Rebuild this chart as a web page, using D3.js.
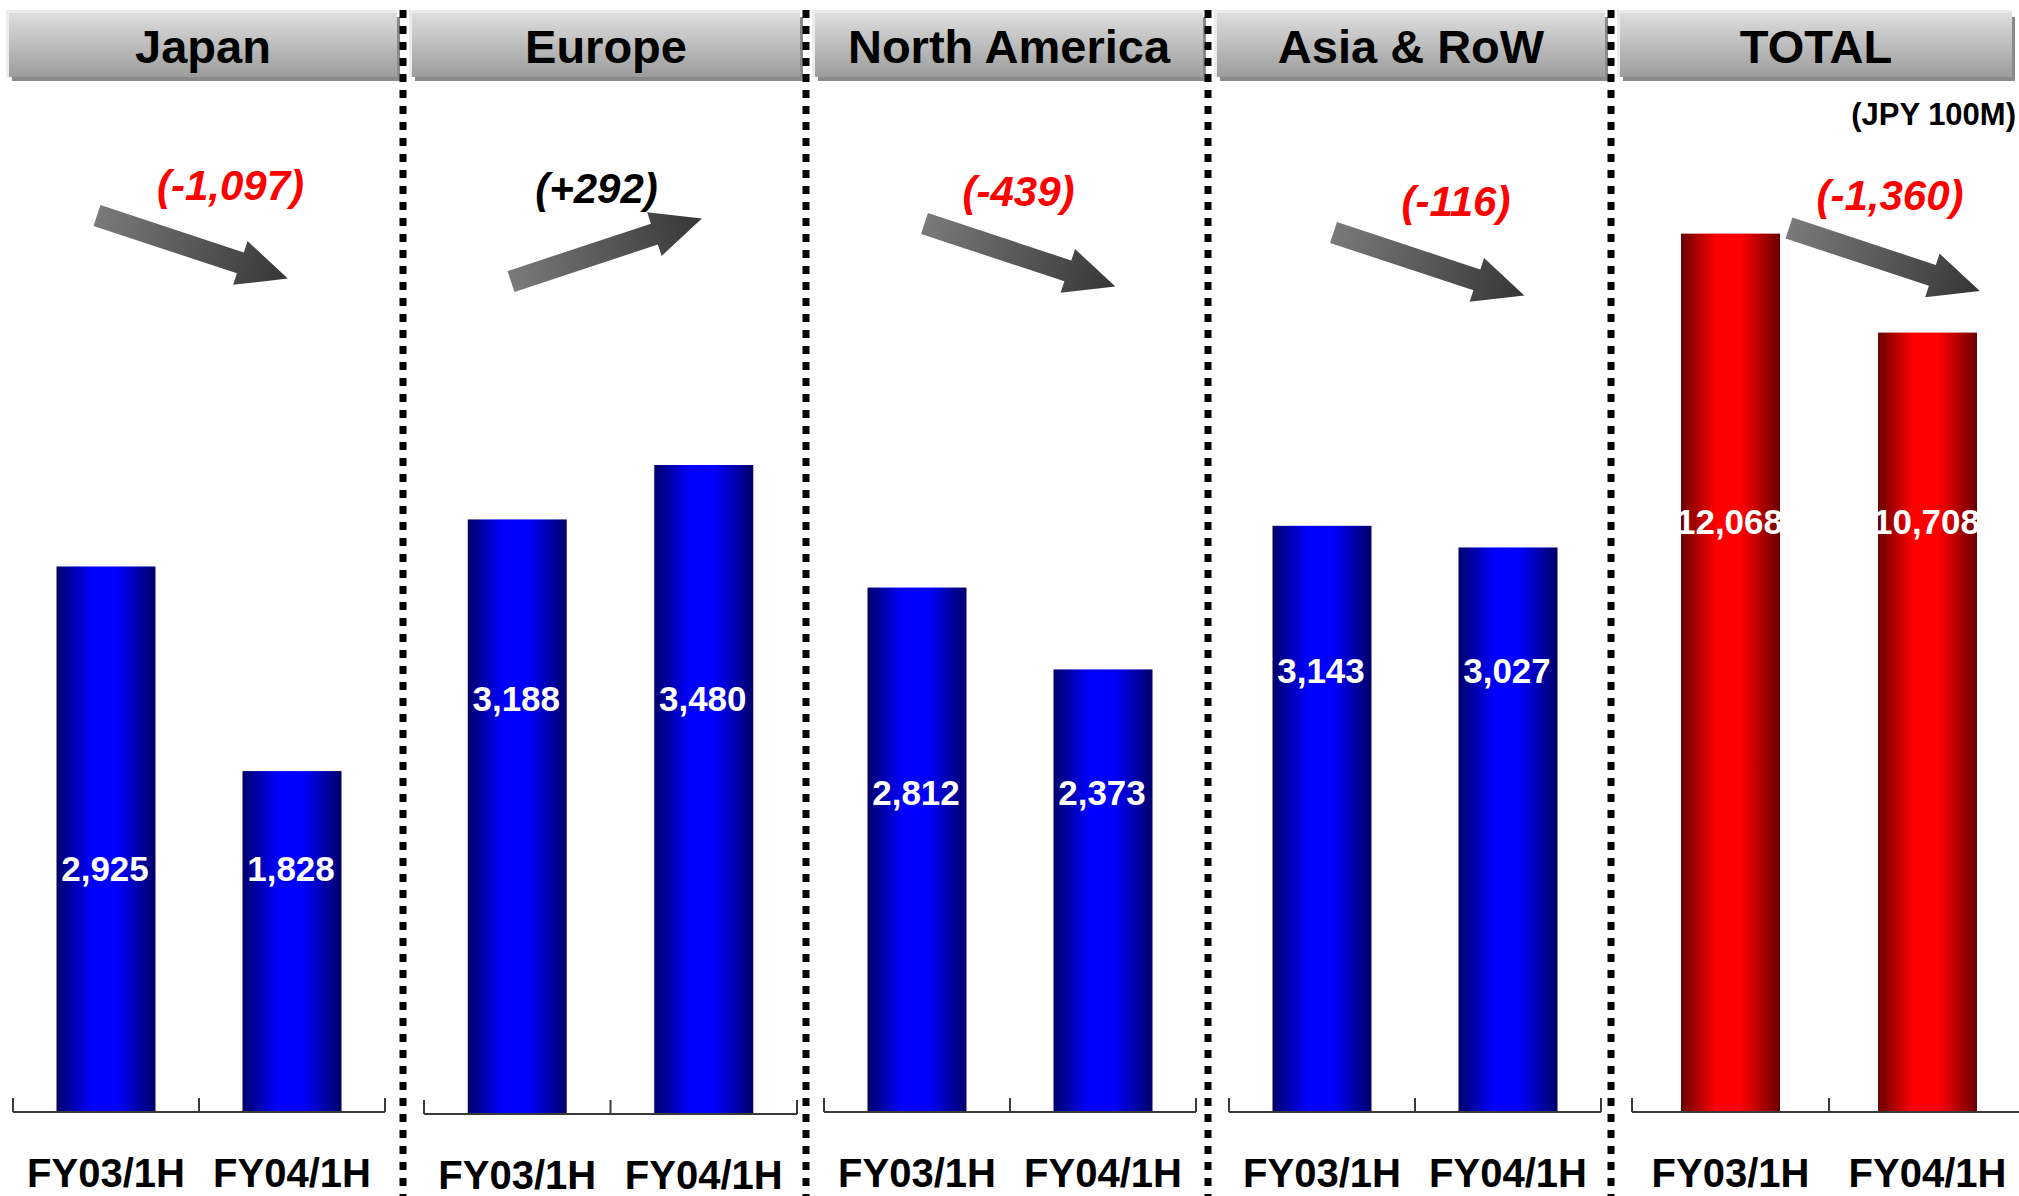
<!DOCTYPE html>
<html>
<head>
<meta charset="utf-8">
<script src="https://cdn.jsdelivr.net/npm/d3@7"></script>
<style>
  html, body { margin: 0; padding: 0; background: #fff; }
  svg { display: block; }
  text { font-family: "Liberation Sans", Arial, sans-serif; font-weight: bold; }
</style>
</head>
<body>
<svg id="chart" width="2019" height="1196"></svg>
<script>
// ---- data (JPY 100M) ----
const regions = ["Japan", "Europe", "North America", "Asia & RoW", "TOTAL"];
const periods = ["FY03/1H", "FY04/1H"];
const salesFY03 = [2925, 3188, 2812, 3143, 12068];
const salesFY04 = [1828, 3480, 2373, 3027, 10708];
const unitNote = "(JPY 100M)";

// ---- layout of the five side-by-side panels ----
const W = 2019, H = 1196;
const panelLeft  = [0, 403, 806, 1208, 1611];
const axisSpan   = [[13, 385], [424, 797], [824, 1196], [1229, 1601], [1632, 2026]];
const baseY      = [1112, 1114, 1112, 1112, 1112];
const valueTextY = [881, 711, 805, 683, 534];          // baseline of the in-bar value labels
const arrowTail  = [[97, 215.5], [511, 281.5], [924.5, 223.5], [1333.5, 232.5], [1789, 228]];
const deltaPos   = [[230.5, 200], [596.5, 202.5], [1018.5, 206], [1456, 216], [1890, 210]];

const svg = d3.select("#chart");
const defs = svg.append("defs");

// bar gradients: dark edges, bright core
function barGradient(id, dark, bright) {
  const g = defs.append("linearGradient").attr("id", id)
    .attr("x1", 0).attr("y1", 0).attr("x2", 1).attr("y2", 0);
  [[0, dark], [0.36, bright], [0.6, bright], [1, dark]].forEach(([o, c]) =>
    g.append("stop").attr("offset", o).attr("stop-color", c));
}
barGradient("gBlue", "#00006a", "#0000ff");
barGradient("gRed", "#6a0000", "#ff0000");

const hg = defs.append("linearGradient").attr("id", "gHead")
  .attr("x1", 0).attr("y1", 0).attr("x2", 0).attr("y2", 1);
hg.append("stop").attr("offset", 0).attr("stop-color", "#dedede");
hg.append("stop").attr("offset", 1).attr("stop-color", "#9c9c9c");

const ag = defs.append("linearGradient").attr("id", "gArrow")
  .attr("x1", 0).attr("y1", 0).attr("x2", 1).attr("y2", 0);
ag.append("stop").attr("offset", 0).attr("stop-color", "#7a7a7a");
ag.append("stop").attr("offset", 1).attr("stop-color", "#363636");

// value scales (bar heights in px)
const yRegion = d3.scaleLinear().domain([0, 4000]).range([0, 746]);
const yTotal  = d3.scaleLinear().domain([0, 14000]).range([0, 1019]);

const fmt = d3.format(",");
const fmtDelta = v => "(" + (v > 0 ? "+" : "-") + fmt(Math.abs(v)) + ")";

// block arrow drawn along +x, tail at origin
const arrowLen = 201, shaftHalf = 11, headHalf = 23, headLen = 50;
const arrowPath = d3.line()([
  [0, -shaftHalf], [arrowLen - headLen, -shaftHalf], [arrowLen - headLen, -headHalf],
  [arrowLen, 0], [arrowLen - headLen, headHalf], [arrowLen - headLen, shaftHalf], [0, shaftHalf]
]) + "Z";

regions.forEach((name, i) => {
  const g = svg.append("g");
  const left = panelLeft[i];
  const isTotal = name === "TOTAL";
  const y = isTotal ? yTotal : yRegion;
  const vals = [salesFY03[i], salesFY04[i]];

  // header plate
  const hx = left + 9, hw = isTotal ? 392 : 388;
  g.append("rect").attr("x", hx - 3).attr("y", 10).attr("width", hw + 3).attr("height", 67)
    .attr("fill", "#ececec");
  g.append("rect").attr("x", hx + 3).attr("y", 17).attr("width", hw).attr("height", 64)
    .attr("fill", "#8a8a8a");
  g.append("rect").attr("x", hx).attr("y", 13).attr("width", hw).attr("height", 64)
    .attr("fill", "url(#gHead)");
  g.append("text").attr("x", hx + hw / 2).attr("y", 63)
    .attr("text-anchor", "middle").attr("font-size", 47).attr("fill", "#000")
    .text(name);

  // category scale: each period owns half the axis
  const x = d3.scaleBand().domain(periods).range(axisSpan[i]).padding(0);
  const barW = 99;
  const b = baseY[i];

  g.selectAll("rect.bar").data(vals).join("rect")
    .attr("class", "bar")
    .attr("x", (d, j) => x(periods[j]) + x.bandwidth() / 2 - barW / 2)
    .attr("y", d => b - y(d))
    .attr("width", barW)
    .attr("height", d => y(d))
    .attr("fill", isTotal ? "url(#gRed)" : "url(#gBlue)");

  g.selectAll("text.val").data(vals).join("text")
    .attr("class", "val")
    .attr("x", (d, j) => x(periods[j]) + x.bandwidth() / 2 - 1)
    .attr("y", valueTextY[i])
    .attr("text-anchor", "middle").attr("font-size", 35).attr("fill", "#fff")
    .text(d => fmt(d));

  // category axis with ticks between categories
  const [a0, a1] = axisSpan[i];
  g.append("line").attr("x1", a0).attr("x2", a1).attr("y1", b).attr("y2", b)
    .attr("stroke", "#3a3a3a").attr("stroke-width", 2);
  const tickXs = periods.map(p => x(p)).concat([a1]);
  g.selectAll("line.tick").data(tickXs).join("line").attr("class", "tick")
    .attr("x1", d => d).attr("x2", d => d).attr("y1", b).attr("y2", b - 14)
    .attr("stroke", "#3a3a3a").attr("stroke-width", 2);
  g.selectAll("text.cat").data(periods).join("text").attr("class", "cat")
    .attr("x", p => x(p) + x.bandwidth() / 2).attr("y", b + 75)
    .attr("text-anchor", "middle").attr("font-size", 40).attr("fill", "#000")
    .text(p => p);

  // change arrow and label
  const delta = salesFY04[i] - salesFY03[i];
  const ang = delta > 0 ? -18.3 : 18.3;
  g.append("path").attr("d", arrowPath)
    .attr("transform", `translate(${arrowTail[i][0]},${arrowTail[i][1]}) rotate(${ang})`)
    .attr("fill", "url(#gArrow)");
  g.append("text").attr("x", deltaPos[i][0]).attr("y", deltaPos[i][1])
    .attr("text-anchor", "middle").attr("font-size", 42).attr("font-style", "italic")
    .attr("fill", delta < 0 ? "#ff0000" : "#000")
    .text(fmtDelta(delta));
});

// unit note
svg.append("text").attr("x", 2016).attr("y", 125).attr("text-anchor", "end")
  .attr("font-size", 31).attr("fill", "#000").text(unitNote);

// dotted panel separators
svg.selectAll("line.sep").data(panelLeft.slice(1)).join("line").attr("class", "sep")
  .attr("x1", d => d).attr("x2", d => d).attr("y1", 10).attr("y2", H)
  .attr("stroke", "#000").attr("stroke-width", 7).attr("stroke-dasharray", "8,8");
</script>
</body>
</html>
